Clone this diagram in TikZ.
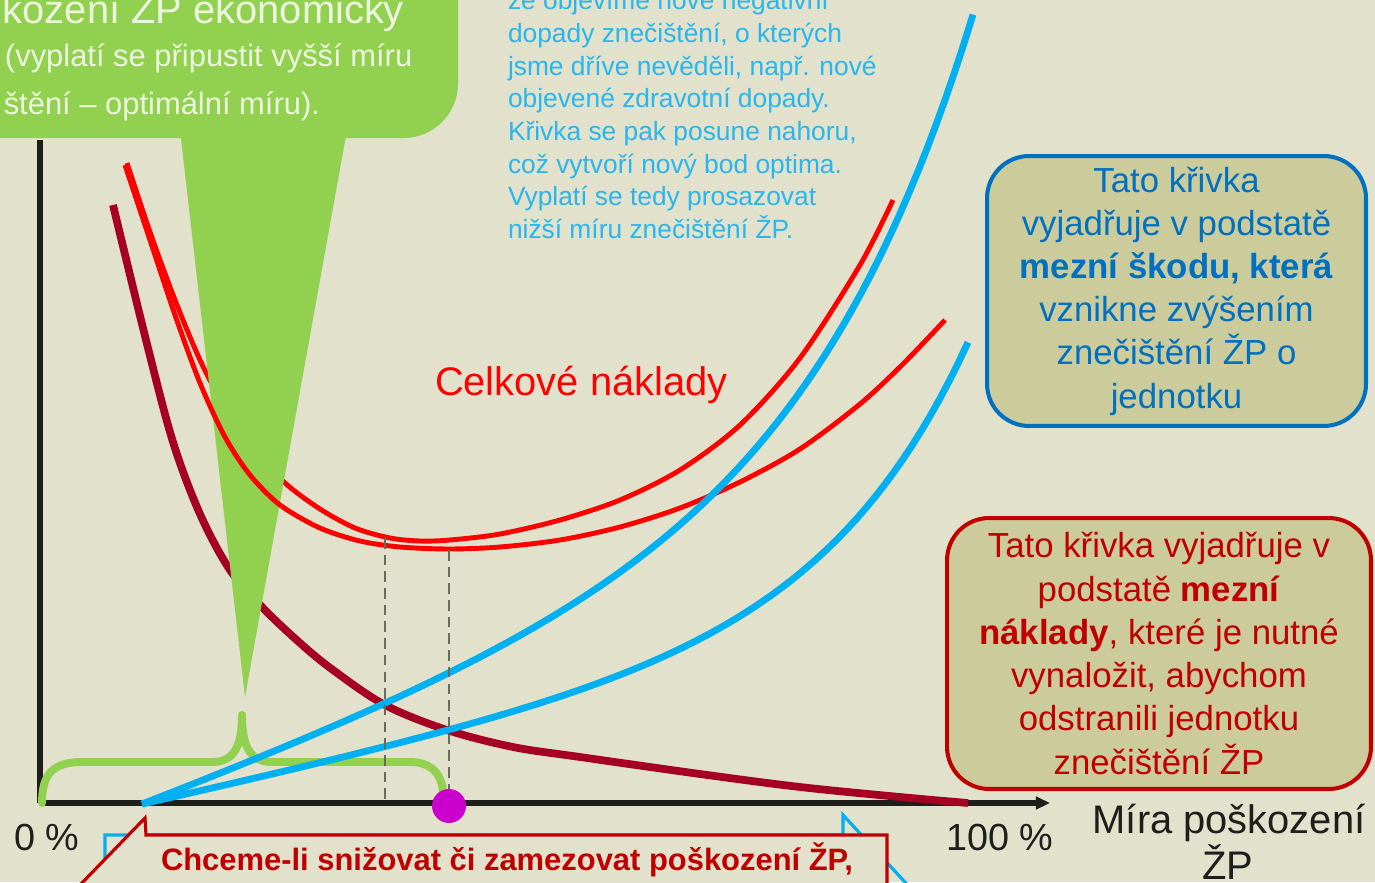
\documentclass[tikz,border=0pt]{standalone}
\usepackage{fontspec}
\setmainfont{Liberation Sans}
\usetikzlibrary{arrows.meta}
\definecolor{bgc}{RGB}{226,225,203}
\definecolor{gcol}{RGB}{146,208,80}
\definecolor{gtxt}{RGB}{236,246,222}
\definecolor{cmaroon}{RGB}{165,0,33}
\definecolor{cred}{RGB}{255,0,0}
\definecolor{cblue}{RGB}{0,176,240}
\definecolor{ctxtblue}{RGB}{40,182,236}
\definecolor{cboxblue}{RGB}{0,112,192}
\definecolor{cboxred}{RGB}{192,0,0}
\definecolor{cboxfill}{RGB}{204,203,155}
\definecolor{cmag}{RGB}{204,0,204}
\definecolor{cdash}{RGB}{105,105,95}
\definecolor{caxis}{RGB}{30,30,28}
\newcommand\fsTitle{\fontsize{22.7pt}{26pt}\selectfont}
\newcommand\fsGreen{\fontsize{17.6pt}{21pt}\selectfont}
\newcommand\fsNote{\fontsize{15pt}{18.4pt}\selectfont}
\newcommand\fsBox{\fontsize{19.8pt}{24.6pt}\selectfont}
\newcommand\fsAxis{\fontsize{21.5pt}{26pt}\selectfont}
\newcommand\fsBottom{\fontsize{17.6pt}{21pt}\selectfont}
\begin{document}
\begin{tikzpicture}[x=0.02cm,y=-0.02cm,
  every node/.style={inner sep=0pt, outer sep=0pt},
  curvemaroon/.style={draw=cmaroon, line width=4.4pt},
  curvered/.style={draw=cred, line width=2.8pt},
  curveblue/.style={draw=cblue, line width=3.9pt},
  dashv/.style={draw=cdash, line width=1.4pt, dash pattern=on 6pt off 3.5pt},
  bracestyle/.style={draw=gcol, line width=4.5pt, line cap=round},
  greentext/.style={text=gtxt},
  notetext/.style={text=ctxtblue, font=\fsNote, anchor=base west},
  axislabel/.style={text=caxis, font=\fsAxis, anchor=base},
  infobox/.style={fill=cboxfill, line width=2.3pt, rounded corners=24pt, align=center, font=\fsBox}
]
\useasboundingbox (0,0) rectangle (1375,882);
\clip (0,0) rectangle (1375,882);
\fill[bgc] (0,0) rectangle (1375,882);

% axes
\draw[caxis, line width=3pt] (40,140) -- (40,803);
\draw[caxis, line width=3pt, -{Triangle[length=8pt,width=7pt]}] (38.5,803) -- (1050,803);

% maroon: marginal abatement cost
\draw[curvemaroon] plot[smooth, tension=0.55] coordinates {(113,205) (147,344) (173,442) (200,514) (230,570) (263,608) (300,643) (333,670) (385,705) (447,730) (513,747) (580,757) (700,774) (800,787) (900,797) (968,803)};

% new total cost curve (behind the green callout)
\draw[curvered] plot[smooth, tension=0.5] coordinates {(127,163) (150,232) (175,300) (200,360) (225,408) (250,446) (285,483) (320,509) (355,528) (390,538) (420,541) (450,540) (500,534) (560,520) (620,500) (680,470) (740,425) (800,358) (860,265) (893,200)};

% green callout
\fill[gcol, rounded corners=31pt] (-100,-100) rectangle (458,138);
\fill[gcol] (180,130) -- (347,130) -- (245,697) -- cycle;
\node[greentext, font=\fsTitle, anchor=base east] (g1) at (404,24) {kození ŽP ekonomický};
\node[greentext, font=\fsGreen, anchor=base west] (g2) at (5,67) {(vyplatí se připustit vyšší míru};
\node[greentext, font=\fsGreen, anchor=base east] (g3) at (320,114) {štění – optimální míru).};

% original total cost curve
\draw[curvered] plot[smooth, tension=0.5] coordinates {(125,165) (150,240) (175,315) (200,383) (225,437) (250,475) (280,505) (320,528) (360,541) (400,547) (449,549) (500,547) (560,540) (620,527) (680,508) (740,482) (800,449) (860,404) (903,364) (945,320)};

% brace
\draw[bracestyle] (42,803) .. controls (42,775) and (52,762) .. (82,762) -- (212,762) .. controls (233,762) and (242,748) .. (242,715);
\draw[bracestyle] (242,715) .. controls (242,748) and (251,762) .. (272,762) -- (410,762) .. controls (432,762) and (443,775) .. (443,795);

% blue: marginal damage curves
\draw[curveblue] plot[domain=142:968, samples=90] ({\x},{804-0.2208*(\x-142)-0.861*(exp(0.007*(\x-142))-1)});
\draw[curveblue] plot[domain=142:973, samples=90] ({\x},{804-0.37*(\x-142)-3.325*(exp(0.006*(\x-142))-1)});

% dashed optimum lines
\draw[dashv] (385,538) -- (385,803);
\draw[dashv] (449,550) -- (449,803);

% optimum dot
\fill[cmag] (449,806) circle[radius=0.34cm];

% labels
\node[text=cred, font=\fsTitle, anchor=base west] (tc) at (435,395) {Celkové náklady};
\node[axislabel] (l0) at (47,850) {0 \%};
\node[axislabel] (l100) at (1000,850) {100 \%};
\node[text=caxis, font=\fsTitle, anchor=base] (xl1) at (1229,833) {Míra poškození};
\node[text=caxis, font=\fsTitle, anchor=base] (xl2) at (1228,879) {ŽP};

% top note
\node[notetext] (n1) at (508,10) {že objevíme nové negativní};
\node[notetext] (n2) at (508,43) {dopady znečištění, o kterých};
\node[notetext] (n3) at (508,75) {jsme dříve nevěděli, např. nové};
\node[notetext] (n4) at (508,108) {objevené zdravotní dopady.};
\node[notetext] (n5) at (508,140) {Křivka se pak posune nahoru,};
\node[notetext] (n6) at (508,173) {což vytvoří nový bod optima.};
\node[notetext] (n7) at (508,205) {Vyplatí se tedy prosazovat};
\node[notetext] (n8) at (508,238) {nižší míru znečištění ŽP.};

% info boxes
\node[infobox, draw=cboxblue, text=cboxblue, minimum width=7.58cm, minimum height=5.4cm] (bbox) at (1176.5,291)
  {Tato křivka\\vyjadřuje v podstatě\\\textbf{mezní škodu, která}\\vznikne zvýšením\\znečištění ŽP o\\jednotku};
\node[infobox, draw=cboxred, text=cboxred, minimum width=8.48cm, minimum height=5.42cm] (rbox) at (1159,653.5)
  {Tato křivka vyjadřuje v\\podstatě \textbf{mezní}\\\textbf{náklady}, které je nutné\\vynaložit, abychom\\odstranili jednotku\\znečištění ŽP};

% bottom callouts
\draw[cblue, line width=1.8pt] (105,900) -- (105,835) -- (843,835) -- (843,815) -- (915,893);
\filldraw[fill=bgc, draw=cboxred, line width=1.8pt] (46,920) -- (145,818) -- (146,835) -- (887,835) -- (887,920);
\node[text=cboxred, font=\fsBottom\bfseries, anchor=base] (bt) at (507,870) {Chceme-li snižovat či zamezovat poškození ŽP,};
\end{tikzpicture}
\end{document}
